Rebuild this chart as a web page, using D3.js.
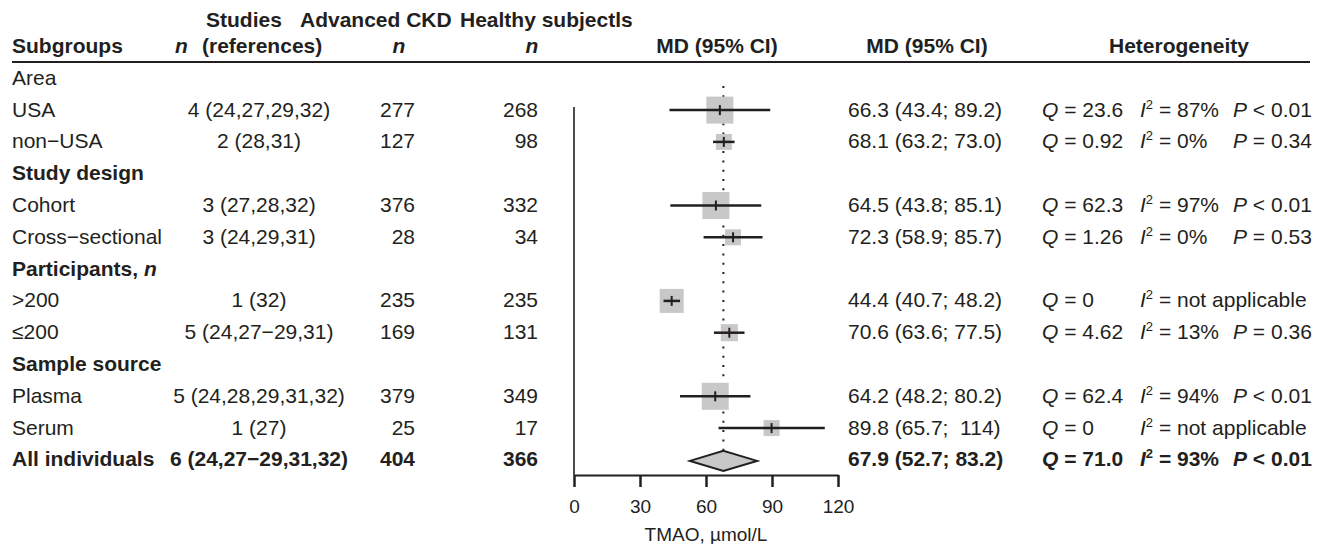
<!DOCTYPE html>
<html>
<head>
<meta charset="utf-8">
<script src="https://cdn.jsdelivr.net/npm/d3@7"></script>
<style>
  body { margin: 0; background: #fff; }
  svg text { font-family: "Liberation Sans", Arial, sans-serif; fill: #231f20; }
</style>
</head>
<body>
<svg id="forest"></svg>
<script>
// Data
const subgroups = ["Area", "USA", "non\u2212USA", "Study design", "Cohort", "Cross\u2212sectional",
                   "Participants, ", ">200", "\u2264200", "Sample source", "Plasma", "Serum", "All individuals"];
const rowKind = ["label", "item", "item", "head", "item", "item", "head", "item", "item", "head", "item", "item", "total"];
const studies = ["", "4 (24,27,29,32)", "2 (28,31)", "", "3 (27,28,32)", "3 (24,29,31)", "",
                 "1 (32)", "5 (24,27\u221229,31)", "", "5 (24,28,29,31,32)", "1 (27)", "6 (24,27\u221229,31,32)"];
const nCKD     = [null, 277, 127, null, 376, 28, null, 235, 169, null, 379, 25, 404];
const nHealthy = [null, 268, 98, null, 332, 34, null, 235, 131, null, 349, 17, 366];
const md       = [null, 66.3, 68.1, null, 64.5, 72.3, null, 44.4, 70.6, null, 64.2, 89.8, 67.9];
const ciLow    = [null, 43.4, 63.2, null, 43.8, 58.9, null, 40.7, 63.6, null, 48.2, 65.7, 52.7];
const ciHigh   = [null, 89.2, 73.0, null, 85.1, 85.7, null, 48.2, 77.5, null, 80.2, 114, 83.2];
const ciText   = ["", "66.3 (43.4; 89.2)", "68.1 (63.2; 73.0)", "", "64.5 (43.8; 85.1)", "72.3 (58.9; 85.7)", "",
                  "44.4 (40.7; 48.2)", "70.6 (63.6; 77.5)", "", "64.2 (48.2; 80.2)", "89.8 (65.7;  114)", "67.9 (52.7; 83.2)"];
const weight   = [null, 100, 35, null, 100, 35, null, 79, 40, null, 100, 35, null];
const hetQ     = ["", "23.6", "0.92", "", "62.3", "1.26", "", "0", "4.62", "", "62.4", "0", "71.0"];
const hetI2    = ["", "87%", "0%", "", "97%", "0%", "", "not applicable", "13%", "", "94%", "not applicable", "93%"];
const hetP     = ["", "< 0.01", "= 0.34", "", "< 0.01", "= 0.53", "", "", "= 0.36", "", "< 0.01", "", "< 0.01"];
const xTicks   = [0, 30, 60, 90, 120];
const overall  = 67.9;

const W = 1319, H = 544;
const svg = d3.select("#forest").attr("width", W).attr("height", H);

const x = d3.scaleLinear().domain([0, 120]).range([574, 838]);
const y = d3.scaleLinear().domain([0, subgroups.length - 1]).range([77.3, 458.9]); // row centres
const boxSize = d3.scaleSqrt().domain([0, 100]).range([0, 27]);

const FS = 21;
const base = i => y(i) + 7.5;
const isBold = i => rowKind[i] === "head" || rowKind[i] === "total";

// Column headers
const head = svg.append("g").attr("font-size", FS).attr("font-weight", "bold");
head.append("text").attr("x", 206).attr("y", 27).text("Studies");
head.append("text").attr("x", 300).attr("y", 27).text("Advanced CKD");
head.append("text").attr("x", 460).attr("y", 27).text("Healthy subjectls");
head.append("text").attr("x", 12).attr("y", 53).text("Subgroups");
head.append("text").attr("x", 175).attr("y", 53).attr("font-style", "italic").text("n");
head.append("text").attr("x", 202).attr("y", 53).text("(references)");
head.append("text").attr("x", 399).attr("y", 53).attr("text-anchor", "middle").attr("font-style", "italic").text("n");
head.append("text").attr("x", 532).attr("y", 53).attr("text-anchor", "middle").attr("font-style", "italic").text("n");
head.append("text").attr("x", 717).attr("y", 53).attr("text-anchor", "middle").text("MD (95% CI)");
head.append("text").attr("x", 927).attr("y", 53).attr("text-anchor", "middle").text("MD (95% CI)");
head.append("text").attr("x", 1179).attr("y", 53).attr("text-anchor", "middle").text("Heterogeneity");

svg.append("line").attr("x1", 12).attr("x2", 1310).attr("y1", 62).attr("y2", 62)
   .attr("stroke", "#231f20").attr("stroke-width", 2);

// Table rows
const rows = svg.append("g").attr("font-size", FS)
  .selectAll("g").data(subgroups).join("g")
  .attr("font-weight", (d, i) => isBold(i) ? "bold" : "normal");

rows.append("text").attr("x", 12).attr("y", (d, i) => base(i))
  .text(d => d)
  .filter((d, i) => i === 6).append("tspan").attr("font-style", "italic").text("n");

rows.append("text").attr("x", 259).attr("y", (d, i) => base(i)).attr("text-anchor", "middle")
  .text((d, i) => studies[i]);
rows.append("text").attr("x", 415).attr("y", (d, i) => base(i)).attr("text-anchor", "end")
  .text((d, i) => nCKD[i] == null ? "" : nCKD[i]);
rows.append("text").attr("x", 538).attr("y", (d, i) => base(i)).attr("text-anchor", "end")
  .text((d, i) => nHealthy[i] == null ? "" : nHealthy[i]);
rows.append("text").attr("x", 848).attr("y", (d, i) => base(i)).attr("xml:space", "preserve")
  .style("white-space", "pre").text((d, i) => ciText[i]);

// Heterogeneity columns
const het = rows.filter((d, i) => hetQ[i] !== "");
het.append("text").attr("x", 1042).attr("y", (d, i, n) => base(subgroups.indexOf(d)))
  .call(t => {
    t.append("tspan").attr("font-style", "italic").text("Q");
    t.append("tspan").text(d => " = " + hetQ[subgroups.indexOf(d)]);
  });
het.append("text").attr("x", 1140).attr("y", d => base(subgroups.indexOf(d)))
  .call(t => {
    t.append("tspan").attr("font-style", "italic").text("I");
    t.append("tspan").attr("font-size", 13).attr("dy", -8).text("2");
    t.append("tspan").attr("dy", 8).text(d => " = " + hetI2[subgroups.indexOf(d)]);
  });
het.filter(d => hetP[subgroups.indexOf(d)] !== "")
  .append("text").attr("x", 1233).attr("y", d => base(subgroups.indexOf(d)))
  .call(t => {
    t.append("tspan").attr("font-style", "italic").text("P");
    t.append("tspan").text(d => " " + hetP[subgroups.indexOf(d)]);
  });

// Forest plot
const plot = svg.append("g");
const last = subgroups.length - 1;

plot.append("line").attr("x1", x(0)).attr("x2", x(0)).attr("y1", 107).attr("y2", 475)
  .attr("stroke", "#231f20").attr("stroke-width", 1.6);

plot.append("line").attr("x1", x(overall)).attr("x2", x(overall)).attr("y1", 86).attr("y2", y(last) - 9)
  .attr("stroke", "#231f20").attr("stroke-width", 2).attr("stroke-dasharray", "2 7.3");

const items = d3.range(subgroups.length).filter(i => rowKind[i] === "item");

plot.selectAll("rect.box").data(items).join("rect").attr("class", "box")
  .attr("x", i => x(md[i]) - boxSize(weight[i]) / 2)
  .attr("y", i => y(i) - boxSize(weight[i]) / 2 + 1)
  .attr("width", i => boxSize(weight[i]))
  .attr("height", i => boxSize(weight[i]))
  .attr("fill", "#c8c8c8");

plot.selectAll("line.ci").data(items).join("line").attr("class", "ci")
  .attr("x1", i => x(ciLow[i])).attr("x2", i => x(ciHigh[i]))
  .attr("y1", i => y(i) + 1).attr("y2", i => y(i) + 1)
  .attr("stroke", "#231f20").attr("stroke-width", 2.5);

plot.selectAll("line.est").data(items).join("line").attr("class", "est")
  .attr("x1", i => x(md[i])).attr("x2", i => x(md[i]))
  .attr("y1", i => y(i) - 4).attr("y2", i => y(i) + 6)
  .attr("stroke", "#231f20").attr("stroke-width", 2);

const yc = y(last) + 2;
plot.append("polygon")
  .attr("points", [[x(ciLow[last]), yc], [x(md[last]), yc - 10], [x(ciHigh[last]), yc], [x(md[last]), yc + 10]].join(" "))
  .attr("fill", "#c8c8c8").attr("stroke", "#231f20").attr("stroke-width", 2);

// Axis
const axis = plot.append("g").attr("transform", "translate(0,475)")
  .call(d3.axisBottom(x).tickValues(xTicks).tickSize(12).tickSizeOuter(0).tickPadding(12.5));
axis.select(".domain").attr("stroke", "#231f20").attr("stroke-width", 2);
axis.selectAll(".tick line").attr("stroke", "#231f20").attr("stroke-width", 2.5);
axis.selectAll(".tick text").attr("font-size", 19).attr("font-family", "Liberation Sans, Arial, sans-serif").attr("fill", "#231f20");

plot.append("text").attr("x", x(60)).attr("y", 541).attr("text-anchor", "middle")
  .attr("font-size", 19).text("TMAO, \u00b5mol/L");
</script>
</body>
</html>
